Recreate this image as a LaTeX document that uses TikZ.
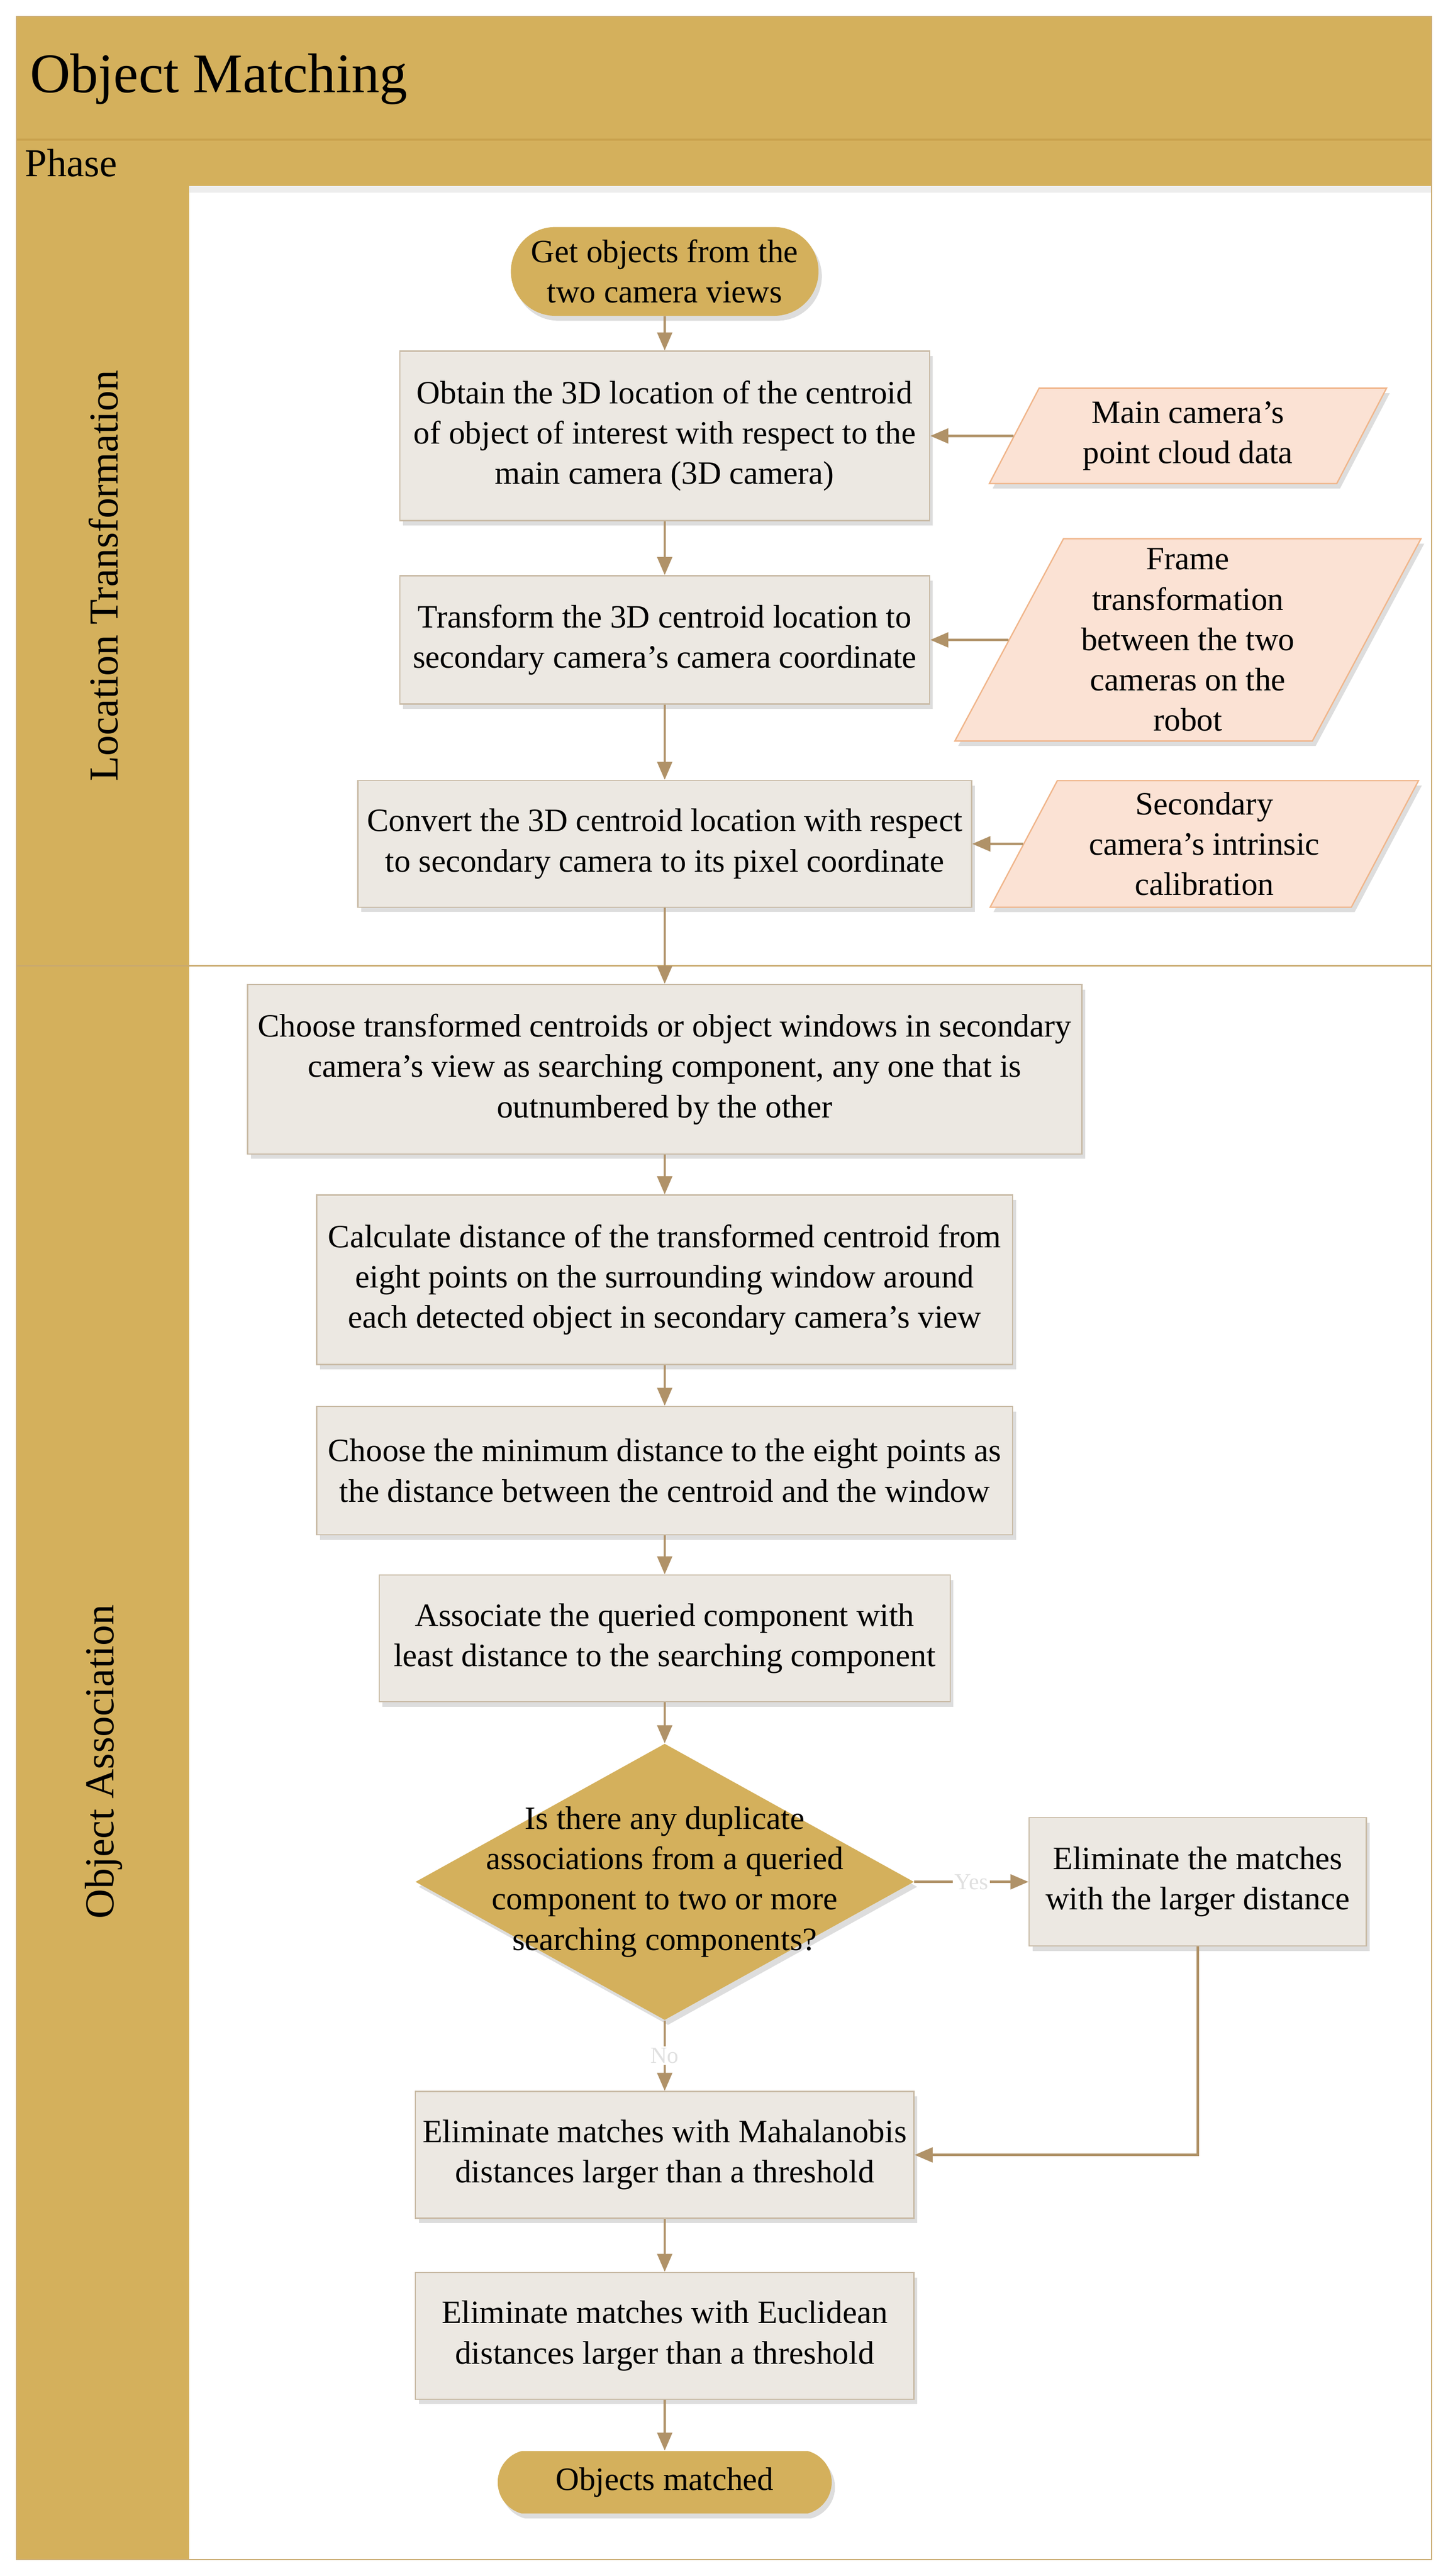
\documentclass[tikz,border=0pt]{standalone}
\usepackage{fontspec}
\setmainfont{Liberation Serif}
\usetikzlibrary{shapes.geometric,shapes.misc,arrows.meta,shadows}

\definecolor{gold}{HTML}{D4B05C}
\definecolor{golddark}{HTML}{C9A24E}
\definecolor{boxfill}{HTML}{ECE8E2}
\definecolor{boxline}{HTML}{C9BBA6}
\definecolor{parafill}{HTML}{FBE2D4}
\definecolor{paraline}{HTML}{F0B58A}
\definecolor{arrowc}{HTML}{B09268}
\definecolor{laneline}{HTML}{C9A96E}

\tikzset{
 shad/.style={drop shadow={shadow xshift=2pt,shadow yshift=-3pt,opacity=0.22,fill=black!60}},
 txt/.style={font=\fontsize{19.8}{24.5}\selectfont, align=center},
 procbox/.style={txt, rectangle, draw=boxline, fill=boxfill, line width=0.8pt, shad, inner sep=0pt},
 databox/.style={txt, trapezium, trapezium left angle=63, trapezium right angle=117, trapezium stretches=true, draw=paraline, fill=parafill, line width=0.8pt, shad, inner sep=0pt},
 termbox/.style={txt, rounded rectangle, fill=gold, shad, inner sep=0pt},
 decbox/.style={diamond, fill=gold, shad, inner sep=0pt, aspect=1.8},
 arr/.style={draw=arrowc, line width=1.5pt, -{Triangle[width=9pt,length=11pt]}},
 flowlabel/.style={font=\fontsize{14}{16}\selectfont, text=black!12, fill=white, inner sep=1pt},
 lanelabel/.style={rotate=90, font=\fontsize{25}{30}\selectfont},
}

\begin{document}
\begin{tikzpicture}[x=1pt,y=-1pt]
\useasboundingbox (0,0) rectangle (880,1566);

% pool background
\fill[gold] (10,10) rectangle (870,113);
\draw[golddark, line width=1.2pt] (10,85) -- (870,85);
\fill[black, opacity=0.07] (115,113) rectangle (870,117);
\fill[gold] (10,113) rectangle (115,1556);
\draw[laneline, line width=1pt] (10,587) -- (870,587);
\draw[laneline, line width=0.8pt] (10,10) rectangle (870,1556);

\node[anchor=west, font=\fontsize{34}{40}\selectfont, inner sep=0pt] (title) at (18,48) {Object Matching};
\node[anchor=west, font=\fontsize{24}{28}\selectfont, inner sep=0pt] (phase) at (15,99) {Phase};
\node[lanelabel] (lane1) at (63,350) {Location Transformation};
\node[lanelabel] (lane2) at (63,1071) {Object Association};

% nodes
\node[termbox, minimum width=187pt, minimum height=54pt] (n1) at (404,165) {Get objects from the\\two camera views};
\node[procbox, minimum width=322pt, minimum height=103pt] (n2) at (404,265) {Obtain the 3D location of the centroid\\of object of interest with respect to the\\main camera (3D camera)};
\node[databox, minimum width=242pt, minimum height=58pt] (p1) at (722,265) {Main camera’s\\point cloud data};
\node[procbox, minimum width=322pt, minimum height=78pt] (n4) at (404,389) {Transform the 3D centroid location to\\secondary camera’s camera coordinate};
\node[databox, minimum width=284pt, minimum height=123pt] (p2) at (722,389) {Frame\\transformation\\between the two\\cameras on the\\robot};
\node[procbox, minimum width=373pt, minimum height=77pt] (n6) at (404,513) {Convert the 3D centroid location with respect\\to secondary camera to its pixel coordinate};
\node[databox, minimum width=261pt, minimum height=77pt] (p3) at (732,513) {Secondary\\camera’s intrinsic\\calibration};
\node[procbox, minimum width=507pt, minimum height=103pt] (n8) at (404,650) {Choose transformed centroids or object windows in secondary\\camera’s view as searching component, any one that is\\outnumbered by the other};
\node[procbox, minimum width=423pt, minimum height=103pt] (n9) at (404,778) {Calculate distance of the transformed centroid from\\eight points on the surrounding window around\\each detected object in secondary camera’s view};
\node[procbox, minimum width=423pt, minimum height=78pt] (n10) at (404,894) {Choose the minimum distance to the eight points as\\the distance between the centroid and the window};
\node[procbox, minimum width=347pt, minimum height=77pt] (n11) at (404,996) {Associate the queried component with\\least distance to the searching component};
\node[decbox, minimum width=303pt, minimum height=168pt] (d12) at (404,1144) {};
\node[txt, inner sep=0pt] (d12t) at (404,1144) {Is there any duplicate\\associations from a queried\\component to two or more\\searching components?};
\node[procbox, minimum width=205pt, minimum height=78pt] (n13) at (728,1144) {Eliminate the matches\\with the larger distance};
\node[procbox, minimum width=303pt, minimum height=77pt] (n14) at (404,1310) {Eliminate matches with Mahalanobis\\distances larger than a threshold};
\node[procbox, minimum width=303pt, minimum height=77pt] (n15) at (404,1420) {Eliminate matches with Euclidean\\distances larger than a threshold};
\node[termbox, rounded rectangle arc length=150, minimum width=203pt, minimum height=38pt] (n16) at (404,1509) {Objects matched};

% connectors
\draw[arr] (n1) -- (n2);
\draw[arr] (p1) -- (n2);
\draw[arr] (n2) -- (n4);
\draw[arr] (p2) -- (n4);
\draw[arr] (n4) -- (n6);
\draw[arr] (p3) -- (n6);
\draw[arr] (n6) -- (n8);
\draw[arr] (n8) -- (n9);
\draw[arr] (n9) -- (n10);
\draw[arr] (n10) -- (n11);
\draw[arr] (n11) -- (d12);
\draw[arr] (d12) -- node[flowlabel] {Yes} (n13);
\draw[arr] (d12) -- node[flowlabel] {No} (n14);
\draw[arr] (n13.south) |- (n14.east);
\draw[arr] (n14) -- (n15);
\draw[arr] (n15) -- (n16);
\end{tikzpicture}
\end{document}
